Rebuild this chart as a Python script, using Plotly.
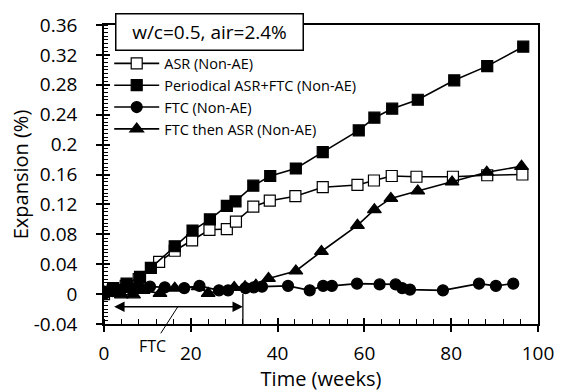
import plotly.graph_objects as go

# ---- data ----
asr_weeks = [0, 2, 5, 8, 12.7, 16.3, 20.3, 24.3, 28.3, 30.4, 34.4, 38.2, 44.1, 50.4, 58.4, 62.2, 66.3, 72.0, 80.4, 88.3, 96.4]
asr_vals = [0.0, 0.005, 0.011, 0.02, 0.043, 0.058, 0.072, 0.086, 0.087, 0.097, 0.117, 0.125, 0.131, 0.143, 0.146, 0.152, 0.158, 0.157, 0.157, 0.159, 0.160]

per_weeks = [0, 2.1, 5.2, 8.3, 10.8, 16.3, 20.4, 24.4, 28.3, 30.3, 34.4, 38.3, 44.2, 50.4, 58.7, 62.3, 66.4, 72.3, 80.7, 88.3, 96.6]
per_vals = [0.003, 0.008, 0.014, 0.023, 0.035, 0.064, 0.085, 0.100, 0.118, 0.124, 0.145, 0.158, 0.168, 0.190, 0.219, 0.236, 0.248, 0.260, 0.286, 0.305, 0.331]

ftc_weeks = [0, 2, 4, 6, 8, 10.6, 14, 18.5, 22, 26.5, 28.6, 32.6, 34.5, 36.4, 42.4, 47.4, 50.5, 52.5, 58.3, 63.5, 67.2, 68.7, 70.5, 78.1, 86.4, 90.3, 94.3]
ftc_vals = [0.0, 0.004, 0.006, 0.008, 0.010, 0.010, 0.009, 0.008, 0.011, 0.005, 0.005, 0.008, 0.009, 0.010, 0.011, 0.005, 0.011, 0.011, 0.014, 0.013, 0.013, 0.008, 0.006, 0.005, 0.014, 0.011, 0.014]

fta_weeks = [0, 2, 4, 6.8, 9, 12.9, 16.3, 21.7, 24.0, 30.0, 32.5, 35.0, 37.9, 44.2, 50.1, 58.4, 62.3, 66.1, 72.3, 80.2, 88.2, 96.2]
fta_vals = [0.003, 0.005, -0.001, -0.001, 0.005, 0.001, 0.008, 0.010, 0.001, 0.009, 0.010, 0.012, 0.021, 0.031, 0.057, 0.092, 0.113, 0.128, 0.138, 0.150, 0.163, 0.171]

series_names = ["ASR (Non-AE)", "Periodical ASR+FTC (Non-AE)", "FTC (Non-AE)", "FTC then ASR (Non-AE)"]
y_ticks = [-0.04, 0, 0.04, 0.08, 0.12, 0.16, 0.2, 0.24, 0.28, 0.32, 0.36]
y_ticktext = ["-0.04", "0", "0.04", "0.08", "0.12", "0.16", "0.2", "0.24", "0.28", "0.32", "0.36"]
x_ticks = [0, 20, 40, 60, 80, 100]
ftc_period = [2, 32]   # FTC period (weeks)
ftc_arrow_y = -0.017

FONT = "Open Sans"
fig = go.Figure()

styles = [
    dict(symbol="square", color="white", size=11),
    dict(symbol="square", color="black", size=11),
    dict(symbol="circle", color="black", size=11),
    dict(symbol="triangle-up", color="black", size=12),
]
for name, xs, ys, st in zip(series_names, [asr_weeks, per_weeks, ftc_weeks, fta_weeks],
                            [asr_vals, per_vals, ftc_vals, fta_vals], styles):
    fig.add_trace(go.Scatter(
        x=xs, y=ys, name=name, mode="lines+markers",
        line=dict(color="black", width=1.6),
        marker=dict(symbol=st["symbol"], size=st["size"], color=st["color"],
                    line=dict(color="black", width=1.2)),
    ))

# dummy trace for overlay axes (major ticks inside)
fig.add_trace(go.Scatter(x=[None], y=[None], xaxis="x2", yaxis="y2", showlegend=False, hoverinfo="skip"))

axis_font = dict(family=FONT, size=19, color="black")
fig.update_layout(
    width=566, height=392,
    margin=dict(l=104, r=28, t=17, b=68),
    paper_bgcolor="white", plot_bgcolor="white",
    font=dict(family=FONT, color="black"),
    showlegend=True,
    legend=dict(x=0.012, y=0.925, xanchor="left", yanchor="top",
                bgcolor="rgba(0,0,0,0)", font=dict(family=FONT, size=14.5, color="black"),
                itemwidth=45, tracegroupgap=0),
    xaxis=dict(range=[0, 100], tickvals=x_ticks, showgrid=False, zeroline=False,
               showline=True, linecolor="black", linewidth=1.5, mirror=True,
               ticks="outside", ticklen=6, tickwidth=1.5, tickcolor="black",
               tickfont=axis_font, ticklabelstandoff=5,
               minor=dict(dtick=4, ticks="inside", ticklen=5, tickwidth=1.2, tickcolor="black", showgrid=False),
               title=dict(text="Time (weeks)", font=dict(family=FONT, size=20), standoff=0)),
    yaxis=dict(range=[-0.04, 0.36], tickvals=y_ticks, ticktext=y_ticktext, showgrid=False, zeroline=False,
               showline=True, linecolor="black", linewidth=1.5, mirror=True,
               ticks="outside", ticklen=6, tickwidth=1.5, tickcolor="black",
               tickfont=axis_font, ticklabelstandoff=15,
               minor=dict(dtick=0.005, tick0=0, ticks="inside", ticklen=4, tickwidth=1.2, tickcolor="black", showgrid=False),
               title=dict(text="Expansion (%)", font=dict(family=FONT, size=20), standoff=0)),
    xaxis2=dict(range=[0, 100], overlaying="x", tickvals=x_ticks, showticklabels=False, showgrid=False,
                zeroline=False, ticks="inside", ticklen=6, tickwidth=1.5, tickcolor="black", showline=False),
    yaxis2=dict(range=[-0.04, 0.36], overlaying="y", tickvals=y_ticks, showticklabels=False, showgrid=False,
                zeroline=False, ticks="inside", ticklen=6, tickwidth=1.5, tickcolor="black", showline=False),
)

# FTC period marker line
fig.add_shape(type="line", x0=ftc_period[1], x1=ftc_period[1], y0=-0.04, y1=0.0,
              xref="x", yref="y", line=dict(color="black", width=1.3))
# double-headed arrow
fig.add_annotation(x=ftc_period[1], y=ftc_arrow_y, ax=ftc_period[0], ay=ftc_arrow_y,
                   xref="x", yref="y", axref="x", ayref="y", text="", showarrow=True,
                   arrowside="end+start", arrowhead=2, arrowsize=1.3, arrowwidth=1.6, arrowcolor="black")
# FTC label with leader line
fig.add_annotation(x=17, y=ftc_arrow_y, xref="x", yref="y", text="FTC", showarrow=True,
                   ax=-25, ay=39, arrowhead=0, arrowwidth=1, arrowcolor="black",
                   font=dict(family=FONT, size=16, color="black"))
# condition box
fig.add_annotation(x=0.243, y=0.975, xref="paper", yref="paper", text="w/c=0.5, air=2.4%",
                   showarrow=False, font=dict(family=FONT, size=19, color="black"),
                   bgcolor="white", bordercolor="black", borderwidth=1.5, borderpad=4,
                   width=178, height=27, xanchor="center", yanchor="middle")

fig.write_html("out.html")
